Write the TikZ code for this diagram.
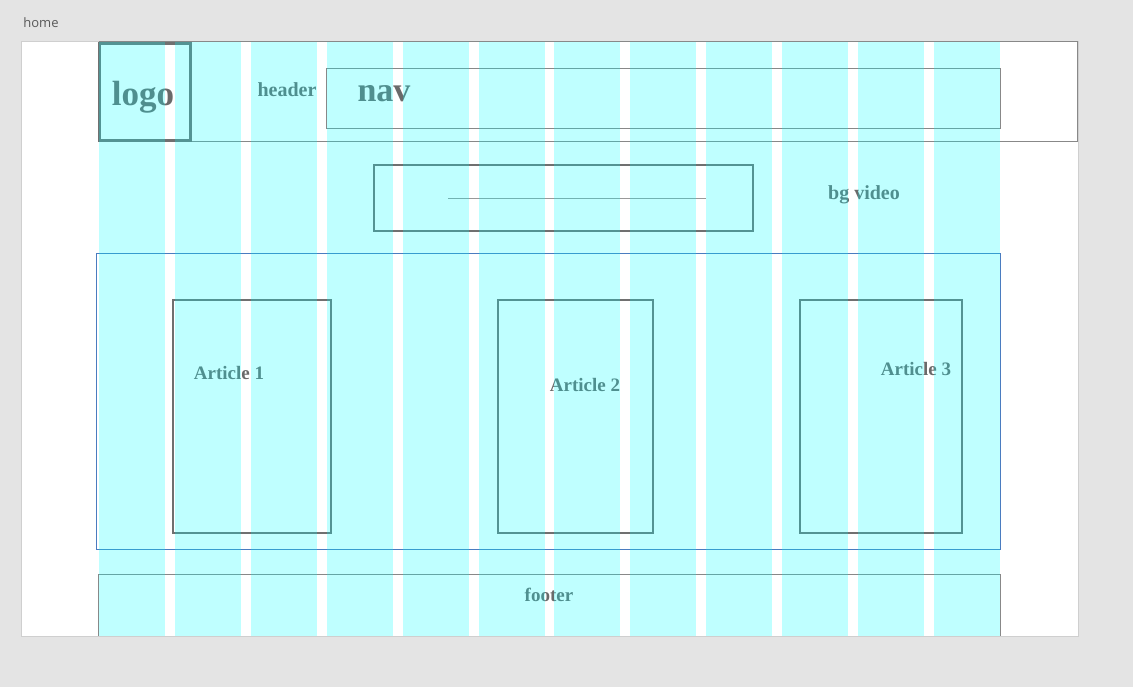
\documentclass[tikz,border=0pt]{standalone}
\usepackage{fontspec}
\setmainfont{Liberation Serif}
\newfontfamily\uifont{Open Sans}
\definecolor{canvas}{HTML}{E4E4E4}
\definecolor{boardline}{HTML}{CFCFCF}
\definecolor{frameline}{HTML}{707070}
\definecolor{thinline}{HTML}{888888}
\definecolor{mainline}{HTML}{4A7CC0}
\definecolor{labeltext}{HTML}{6A6A6A}
\definecolor{gridcyan}{HTML}{00FFFF}
\tikzset{
  box/.style={draw=frameline, line width=2pt},
  thinbox/.style={draw=thinline, line width=1pt},
  label/.style={text=labeltext, font=\bfseries, inner sep=0pt},
  column/.style={fill=gridcyan, fill opacity=.25},
}
\begin{document}
\begin{tikzpicture}[x=1pt,y=-1pt]

  % page and artboard
  \fill[canvas] (0,0) rectangle (1133,687);
  \useasboundingbox (0,0) rectangle (1133,687);
  \filldraw[fill=white, draw=boardline, line width=1pt] (21,42) rectangle (1078,636);
  \node[text=black!65, font=\uifont\fontsize{13}{15}\selectfont, inner sep=0pt] (home) at (41,23) {home};

  % header
  \draw[thinbox] (99,42) -- (1077,42) -- (1077,142) -- (99,142);
  \draw[box, line width=3pt] (99.5,43.5) rectangle (190,141);
  \draw[thinbox] (326,69) rectangle (1000,129);

  % bg video
  \draw[box] (374,165) rectangle (753,231);
  \draw[draw=black!40, line width=.6pt] (448,198) -- (706,198);

  % articles
  \draw[draw=mainline, line width=1pt] (96,254) rectangle (1000,549);
  \draw[box] (173,300) rectangle (331,533);
  \draw[box] (498,300) rectangle (653,533);
  \draw[box] (800,300) rectangle (962,533);

  % footer
  \draw[thinbox] (98,636) -- (98,574) -- (1000,574) -- (1000,636);

  \begin{scope}[every node/.style={label}]
    \node[font=\bfseries\fontsize{35}{38}\selectfont] (logo) at (143,97) {logo};
    \node[font=\bfseries\fontsize{20}{23}\selectfont] (header) at (287,90) {header};
    \node[font=\bfseries\fontsize{34}{37}\selectfont] (nav) at (384,94) {nav};
    \node[font=\bfseries\fontsize{20}{23}\selectfont] (bgvideo) at (864,195) {bg video};
    \node[font=\bfseries\fontsize{19}{22}\selectfont] (art1) at (229,373) {Article 1};
    \node[font=\bfseries\fontsize{19}{22}\selectfont] (art2) at (585,385) {Article 2};
    \node[font=\bfseries\fontsize{19}{22}\selectfont] (art3) at (916,369) {Article 3};
    \node[font=\bfseries\fontsize{19}{22}\selectfont] (footer) at (549,595) {footer};
  \end{scope}

  % grid columns on top
  \foreach \i in {0,...,11}
    \fill[column] ({99+\i*75.9},42) rectangle +(66,594);

\end{tikzpicture}
\end{document}
